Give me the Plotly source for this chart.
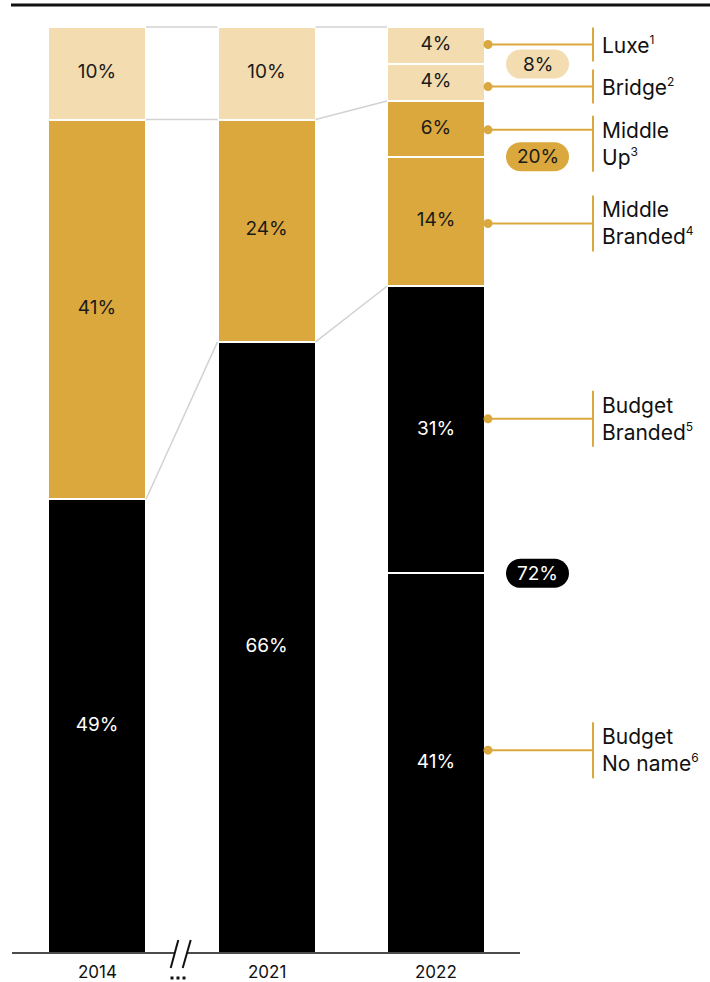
import plotly.graph_objects as go

# ---- data -------------------------------------------------------------
years = ["2014", "2021", "2022"]
shares_2014 = [49, 41, 10]
shares_2021 = [66, 24, 10]
shares_2022 = [41, 31, 14, 6, 4, 4]
tiers_2014 = ["budget", "middle", "upper"]
tiers_2021 = ["budget", "middle", "upper"]
tiers_2022 = ["budget", "budget", "middle", "middle", "upper", "upper"]
segment_names_2022 = [
    ["Budget", "No name"],
    ["Budget", "Branded"],
    ["Middle", "Branded"],
    ["Middle", "Up"],
    ["Bridge"],
    ["Luxe"],
]
footnotes_2022 = ["6", "5", "4", "3", "2", "1"]
tier_order = ["budget", "middle", "upper"]

# ---- styling ----------------------------------------------------------
FONT = "Inter"
TIER_FILL = {"budget": "#000000", "middle": "#dba83e", "upper": "#f2dcb0"}
TIER_TEXT = {"budget": "#ffffff", "middle": "#1a1a1a", "upper": "#1a1a1a"}
GOLD = "#dba83e"
CONNECTOR = "#d2d2d2"
INK = "#111111"

W, H = 710, 982
X_PX0, X_STEP = 97.0, 169.5      # pixel centre of first bar, spacing between bars
Y_PX0, Y_SCALE = 953.0, 9.26     # pixel row of 0 %, pixels per percentage point
BAR_W = 98 / X_STEP


def xd(px):
    return (px - X_PX0) / X_STEP


def yd(px):
    return (Y_PX0 - px) / Y_SCALE


fig = go.Figure()
shapes = []
annotations = []

# ---- stacked bars (one trace per price tier) ---------------------------
all_shares = [shares_2014, shares_2021, shares_2022]
all_tiers = [tiers_2014, tiers_2021, tiers_2022]
segs = {t: dict(x=[], y=[], base=[]) for t in tier_order}
bases_2022 = []
tier_tops = []
for i, (shares, tiers) in enumerate(zip(all_shares, all_tiers)):
    base = 0
    tops = {}
    for v, t in zip(shares, tiers):
        if i == 2:
            bases_2022.append(base)
        segs[t]["x"].append(i)
        segs[t]["y"].append(v)
        segs[t]["base"].append(base)
        base += v
        tops[t] = base
    tier_tops.append(tops)

for t in tier_order:
    d = segs[t]
    fig.add_trace(go.Bar(
        x=d["x"], y=d["y"], base=d["base"], width=BAR_W,
        marker=dict(color=TIER_FILL[t], line=dict(color="#ffffff", width=2)),
        hoverinfo="skip", showlegend=False,
    ))
    fig.add_trace(go.Scatter(
        x=d["x"], y=[b + v / 2 for b, v in zip(d["base"], d["y"])],
        mode="text", text=[f"{v}%" for v in d["y"]], textposition="middle center",
        textfont=dict(family=FONT, size=19, color=TIER_TEXT[t]),
        hoverinfo="skip", showlegend=False,
    ))

# ---- connectors between neighbouring bars ------------------------------
for i in range(len(years) - 1):
    for t in tier_order:
        fig.add_trace(go.Scatter(
            x=[i + BAR_W / 2, i + 1 - BAR_W / 2],
            y=[tier_tops[i][t], tier_tops[i + 1][t]],
            mode="lines", line=dict(color=CONNECTOR, width=1.5),
            hoverinfo="skip", showlegend=False,
        ))

# ---- leader lines and segment names for the latest year ----------------
leader_nudge_px = [13, 11, -2, -1, -4, 1]     # vertical fine-tuning of each leader
label_shift_px = [0, 0, 0, -14, 0, 0]         # text block offset from its leader
dot_x = xd(488)
stem_x = xd(593)
for j, (v, lines, note) in enumerate(zip(shares_2022, segment_names_2022, footnotes_2022)):
    y = bases_2022[j] + v / 2 + leader_nudge_px[j] / Y_SCALE
    fig.add_trace(go.Scatter(
        x=[xd(486), stem_x], y=[y, y], mode="lines",
        line=dict(color=GOLD, width=2), hoverinfo="skip", showlegend=False,
    ))
    fig.add_trace(go.Scatter(
        x=[dot_x], y=[y], mode="markers",
        marker=dict(color=GOLD, size=9), hoverinfo="skip", showlegend=False,
    ))
    yc = y + label_shift_px[j] / Y_SCALE
    half = (28 if len(lines) > 1 else 17) / Y_SCALE
    shapes.append(dict(type="line", xref="x", yref="y", x0=stem_x, x1=stem_x,
                       y0=yc - half, y1=yc + half,
                       line=dict(color=GOLD, width=2)))
    text = "<br>".join(lines) + f"<sup><span style='font-size:12px'>{note}</span></sup>"
    annotations.append(dict(x=xd(600), y=yc, xref="x", yref="y", text=text,
                            showarrow=False, xanchor="left", yanchor="middle",
                            align="left",
                            font=dict(family=FONT, size=21, color=INK)))

# ---- tier totals as pills ----------------------------------------------
a, r = 31.5, 14.5
k = 0.5523 * r
s = a - r
pill = (f"M {-s},{-r} L {s},{-r} "
        f"C {s + k},{-r} {a},{-k} {a},0 "
        f"C {a},{k} {s + k},{r} {s},{r} "
        f"L {-s},{r} "
        f"C {-s - k},{r} {-a},{k} {-a},0 "
        f"C {-a},{-k} {-s - k},{-r} {-s},{-r} Z")
pill_x = xd(537.5)
for t in tier_order:
    idx = [j for j, tt in enumerate(tiers_2022) if tt == t]
    total = sum(shares_2022[j] for j in idx)
    y = bases_2022[idx[1]]
    shapes.append(dict(type="path", xref="x", yref="y",
                       xsizemode="pixel", ysizemode="pixel",
                       xanchor=pill_x, yanchor=y, path=pill,
                       fillcolor=TIER_FILL[t], line=dict(width=0), layer="above"))
    annotations.append(dict(x=pill_x, y=y, xref="x", yref="y", text=f"{total}%",
                            showarrow=False, xanchor="center", yanchor="middle",
                            font=dict(family=FONT, size=19, color=TIER_TEXT[t])))

# ---- axis furniture ----------------------------------------------------
# top rule
shapes.append(dict(type="line", xref="x", yref="y", x0=xd(11), x1=xd(W),
                   y0=yd(5), y1=yd(5), line=dict(color=INK, width=3)))
# baseline with a break between the first two years
for x0, x1 in [(12, 174), (187, 520)]:
    shapes.append(dict(type="line", xref="x", yref="y", x0=xd(x0), x1=xd(x1),
                       y0=0, y1=0, line=dict(color=INK, width=1.5)))
for (x0, y0, x1, y1) in [(170.7, 968, 178.3, 940), (182.7, 968, 190.7, 940)]:
    shapes.append(dict(type="line", xref="x", yref="y", x0=xd(x0), x1=xd(x1),
                       y0=yd(y0), y1=yd(y1), line=dict(color=INK, width=2)))
# ellipsis under the break
fig.add_trace(go.Scatter(
    x=[xd(172), xd(178), xd(184)], y=[yd(978)] * 3, mode="markers",
    marker=dict(symbol="square", size=3, color=INK),
    hoverinfo="skip", showlegend=False,
))
for i, yr in enumerate(years):
    annotations.append(dict(x=i, y=yd(972), xref="x", yref="y", text=yr,
                            showarrow=False, xanchor="center", yanchor="middle",
                            font=dict(family=FONT, size=17, color=INK)))

fig.update_layout(
    width=W, height=H,
    margin=dict(l=0, r=0, t=0, b=0),
    paper_bgcolor="#ffffff", plot_bgcolor="#ffffff",
    barmode="overlay", bargap=0,
    xaxis=dict(range=[xd(0), xd(W)], visible=False, fixedrange=True),
    yaxis=dict(range=[yd(H), yd(0)], visible=False, fixedrange=True),
    shapes=shapes, annotations=annotations,
    showlegend=False,
)

fig.write_html("out.html")
